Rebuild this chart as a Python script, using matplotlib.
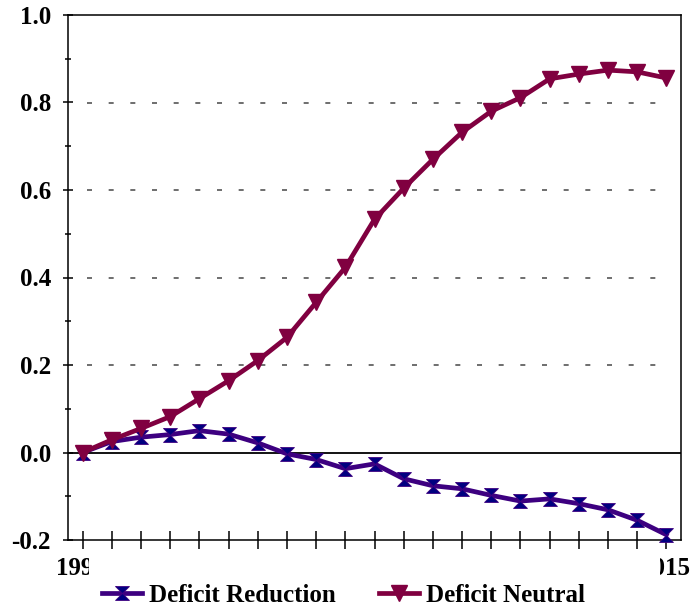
import numpy as np
import matplotlib
matplotlib.use("Agg")
import matplotlib.pyplot as plt
from matplotlib.ticker import MultipleLocator, FormatStrFormatter
from matplotlib.transforms import Bbox, TransformedBbox

years = list(range(1995, 2016))
deficit_reduction = [0.0, 0.025, 0.035, 0.041, 0.050, 0.042, 0.022, -0.003, -0.016,
                     -0.037, -0.026, -0.060, -0.076, -0.083, -0.098, -0.111, -0.106,
                     -0.117, -0.131, -0.155, -0.188]
deficit_neutral = [0.0, 0.029, 0.055, 0.082, 0.123, 0.164, 0.210, 0.263, 0.343, 0.423,
                   0.533, 0.604, 0.670, 0.732, 0.780, 0.811, 0.854, 0.865, 0.874,
                   0.870, 0.856]
grid_levels = [0.2, 0.4, 0.6, 0.8]
edge_labels = ["1995", "2015"]

FS = 18
plt.rcParams.update({
    "font.family": "Liberation Serif",
    "font.weight": "bold",
    "font.size": FS,
})

fig = plt.figure(figsize=(6.94, 6.10), dpi=100)
ax = fig.add_axes([68 / 694, 70 / 610, 613 / 694, 525 / 610])

# hourglass marker for the reduction series
hourglass = [(-1, 1), (1, 1), (0, 0), (1, -1), (-1, -1), (0, 0), (-1, 1)]

ax.hlines(grid_levels, years[0] + 0.15, years[-1], colors="#555555",
          linewidth=1.2, linestyles=(0, (3, 10)), zorder=1)
ax.axhline(0, color="black", linewidth=1.3, zorder=2)

ax.plot(years, deficit_reduction, color="#3D0080", linewidth=3.4,
        marker=hourglass, markersize=10, markerfacecolor="#000080",
        markeredgecolor="#3D0080", markeredgewidth=0.6,
        label="Deficit Reduction", zorder=3, clip_on=False)
ax.plot(years, deficit_neutral, color="#800040", linewidth=3.4,
        marker="v", markersize=11, markerfacecolor="#800040",
        markeredgecolor="#800040", label="Deficit Neutral", zorder=4,
        clip_on=False)

ax.set_xlim(1994.5, 2015.5)
ax.set_ylim(-0.2, 1.0)

ax.set_xticks(years)
ax.set_xticklabels([])
ax.tick_params(axis="x", direction="inout", length=13, width=1.1)
ax.yaxis.set_major_locator(MultipleLocator(0.2))
ax.yaxis.set_minor_locator(MultipleLocator(0.1))
ax.yaxis.set_major_formatter(FormatStrFormatter("%.1f"))
ax.tick_params(axis="y", which="major", direction="inout", length=7.5,
               width=1.1, pad=8.5, labelsize=FS)
ax.tick_params(axis="y", which="minor", direction="inout", length=4.5, width=1.1)
for s in ax.spines.values():
    s.set_linewidth(1.1)

# first and last year labels, cut off like in the original
clips = [(0, 89), (660, 694)]
for yr, lab, (x0, x1) in zip([years[0], years[-1]], edge_labels, clips):
    t = fig.text(0, 0, lab, fontsize=FS, fontweight="bold", ha="center", va="top")
    px = ax.transData.transform((yr, 0))[0]
    shift = -0.002 if yr == years[0] else -0.002
    t.set_position((px / 694 + shift, 1 - 557 / 610))
    t.set_clip_box(TransformedBbox(Bbox([[x0 / 694, 0], [x1 / 694, 1]]),
                                   fig.transFigure))
    t.set_clip_on(True)

fig.legend(loc="center", bbox_to_anchor=(0.495, 0.024), ncol=2, frameon=False,
           handlelength=1.6, handletextpad=0.3, columnspacing=1.7,
           prop={"family": "Liberation Serif", "weight": "bold", "size": FS})

fig.savefig("out.png", dpi=100)
